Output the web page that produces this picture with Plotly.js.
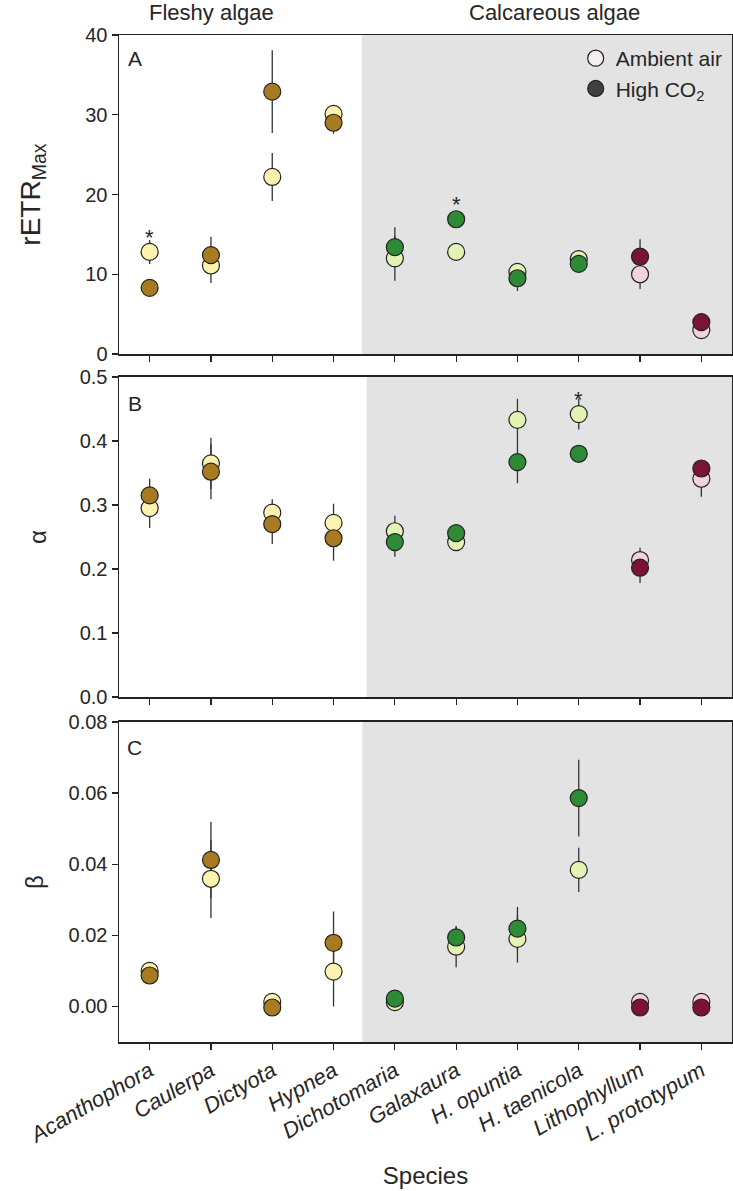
<!DOCTYPE html>
<html>
<head>
<meta charset="utf-8">
<script src="https://cdn.plot.ly/plotly-3.0.1.min.js"></script>
<style>html,body{margin:0;padding:0;background:#fff;}#chart{width:733px;height:1191px;}</style>
</head>
<body>
<div id="chart"></div>
<script>
// ---------- data ----------
const species = ['Acanthophora','Caulerpa','Dictyota','Hypnea','Dichotomaria','Galaxaura','H. opuntia','H. taenicola','Lithophyllum','L. prototypum'];
const groupOf = ['fleshy','fleshy','fleshy','fleshy','green','green','green','green','red','red'];

// Panel A: rETRmax
const ambientA    = [12.8, 11.1, 22.2, 30.1, 12.0, 12.8, 10.3, 11.9, 10.0, 3.0];
const ambientAErr = [1.5, 2.2, 3.0, 0.5, 2.8, 0.5, 1.1, 0.5, 1.85, 0.4];
const highA       = [8.3, 12.4, 32.9, 29.0, 13.4, 16.9, 9.5, 11.3, 12.2, 4.0];
const highAErr    = [0.5, 2.3, 5.2, 1.4, 2.5, 0.5, 1.6, 0.5, 2.2, 0.4];

// Panel B: alpha
const ambientB    = [0.295, 0.365, 0.288, 0.272, 0.259, 0.242, 0.433, 0.442, 0.214, 0.341];
const ambientBErr = [0.031, 0.040, 0.021, 0.030, 0.024, 0.012, 0.033, 0.024, 0.019, 0.028];
const highB       = [0.315, 0.352, 0.270, 0.248, 0.242, 0.256, 0.367, 0.380, 0.202, 0.357];
const highBErr    = [0.026, 0.043, 0.031, 0.035, 0.023, 0.010, 0.033, 0.005, 0.024, 0.010];

// Panel C: beta
const ambientC    = [0.0100, 0.0359, 0.0013, 0.0098, 0.0012, 0.0168, 0.0190, 0.0384, 0.0013, 0.0013];
const ambientCErr = [0.0010, 0.0110, 0.0005, 0.0098, 0.0005, 0.0058, 0.0067, 0.0062, 0.0005, 0.0005];
const highC       = [0.0087, 0.0412, -0.0003, 0.0179, 0.0022, 0.0194, 0.0219, 0.0586, -0.0003, -0.0003];
const highCErr    = [0.0010, 0.0107, 0.0005, 0.0088, 0.0005, 0.0030, 0.0061, 0.0108, 0.0005, 0.0005];

// significance asterisks
const starA = {species: ['Acanthophora','Galaxaura'], y: [14.6, 18.8]};
const starB = {species: ['H. taenicola'], y: [0.465]};

const ambientColor = {fleshy:'#FDF3B0', green:'#E3F3B3', red:'#F3D2D8'};
const highColor    = {fleshy:'#A87A22', green:'#2F8A35', red:'#7C1237'};
const legendAmbient = '#F5EEEE';
const legendHigh = '#404040';

// ---------- traces ----------
const FONT = 'Liberation Sans, Arial, sans-serif';
const TXT = '#262626';
const traces = [];
const panels = [
  {amb: ambientA, ambE: ambientAErr, hi: highA, hiE: highAErr, xa:'x',  ya:'y'},
  {amb: ambientB, ambE: ambientBErr, hi: highB, hiE: highBErr, xa:'x2', ya:'y2'},
  {amb: ambientC, ambE: ambientCErr, hi: highC, hiE: highCErr, xa:'x3', ya:'y3'}
];
panels.forEach(p => {
  // error bars first so markers sit on top
  [[p.amb, p.ambE], [p.hi, p.hiE]].forEach(([v, e]) => {
    traces.push({x: species, y: v, xaxis: p.xa, yaxis: p.ya, type:'scatter', mode:'markers',
      marker:{size:2, opacity:0}, showlegend:false, hoverinfo:'skip',
      error_y:{type:'data', array:e, visible:true, color:'#333', thickness:1.3, width:0}});
  });
  traces.push({x: species, y: p.amb, xaxis: p.xa, yaxis: p.ya, type:'scatter', mode:'markers',
    marker:{size:17, color: groupOf.map(g => ambientColor[g]), line:{color:'#222', width:1.2}},
    showlegend:false, name:'Ambient air'});
  traces.push({x: species, y: p.hi, xaxis: p.xa, yaxis: p.ya, type:'scatter', mode:'markers',
    marker:{size:17, color: groupOf.map(g => highColor[g]), line:{color:'#222', width:1.2}},
    showlegend:false, name:'High CO2'});
});
// legend entries
traces.push({x:[null], y:[null], type:'scatter', mode:'markers', name:'Ambient air',
  marker:{size:17, color:legendAmbient, line:{color:'#222', width:1.2}}, showlegend:true});
traces.push({x:[null], y:[null], type:'scatter', mode:'markers', name:'High CO<sub>2</sub>',
  marker:{size:17, color:legendHigh, line:{color:'#222', width:1.2}}, showlegend:true});

// ---------- layout ----------
const xBase = {type:'category', categoryorder:'array', categoryarray: species, range:[-0.5, 9.5],
  showline:true, linecolor:'#222', linewidth:1.5, mirror:true, ticks:'outside', ticklen:6,
  tickcolor:'#222', tickwidth:1.2, showgrid:false, zeroline:false, fixedrange:true};
const yBase = {showline:true, linecolor:'#222', linewidth:1.5, mirror:true, ticks:'outside', ticklen:6,
  tickcolor:'#222', tickwidth:1.2, showgrid:false, zeroline:false,
  tickfont:{family:FONT, size:20, color:TXT}};

const layout = {
  width:733, height:1191,
  margin:{l:119, r:1, t:35, b:149},
  paper_bgcolor:'#fff', plot_bgcolor:'rgba(0,0,0,0)',
  font:{family:FONT, color:TXT},
  showlegend:true,
  legend:{x:0.745, y:0.997, xanchor:'left', yanchor:'top', font:{family:FONT, size:21, color:TXT},
    bgcolor:'rgba(0,0,0,0)', borderwidth:0, tracegroupgap:0},
  xaxis: Object.assign({}, xBase, {domain:[0,1], anchor:'y', showticklabels:false}),
  xaxis2: Object.assign({}, xBase, {domain:[0,1], anchor:'y2', showticklabels:false}),
  xaxis3: Object.assign({}, xBase, {domain:[0,1], anchor:'y3', showticklabels:true, tickangle:-30,
    tickfont:{family:FONT, size:22, color:TXT, style:'italic'},
    title:{text:'Species', font:{family:FONT, size:24, color:TXT}, standoff:20}}),
  yaxis: Object.assign({}, yBase, {domain:[0.6832,1], anchor:'x', range:[0,40], dtick:10,
    title:{text:'rETR<sub>Max</sub>', font:{family:FONT, size:28, color:TXT}, standoff:36}}),
  yaxis2: Object.assign({}, yBase, {domain:[0.3426,0.6604], anchor:'x2', range:[0,0.5], dtick:0.1, tickformat:'.1f',
    title:{text:'α', font:{family:FONT, size:24, color:TXT}, standoff:26}}),
  yaxis3: Object.assign({}, yBase, {domain:[0,0.3178], anchor:'x3', range:[-0.01,0.08],
    tickvals:[0,0.02,0.04,0.06,0.08], tickformat:'.2f',
    title:{text:'β', font:{family:FONT, size:24, color:TXT}, standoff:18}}),
  shapes:[
    {type:'rect', xref:'x', yref:'y domain', x0:3.46, x1:9.5, y0:0, y1:1, fillcolor:'#E3E3E3', line:{width:0}, layer:'below'},
    {type:'rect', xref:'x2', yref:'y2 domain', x0:3.54, x1:9.5, y0:0, y1:1, fillcolor:'#E3E3E3', line:{width:0}, layer:'below'},
    {type:'rect', xref:'x3', yref:'y3 domain', x0:3.47, x1:9.5, y0:0, y1:1, fillcolor:'#E3E3E3', line:{width:0}, layer:'below'}
  ],
  annotations:[
    {text:'Fleshy algae', xref:'paper', yref:'paper', x:0.1517, y:1.0228, xanchor:'center', yanchor:'middle', showarrow:false, font:{family:FONT, size:22, color:TXT}},
    {text:'Calcareous algae', xref:'paper', yref:'paper', x:0.711, y:1.0228, xanchor:'center', yanchor:'middle', showarrow:false, font:{family:FONT, size:22, color:TXT}},
    {text:'A', xref:'x domain', yref:'y domain', x:0.012, y:0.968, xanchor:'left', yanchor:'top', showarrow:false, font:{family:FONT, size:21, color:TXT}},
    {text:'B', xref:'x2 domain', yref:'y2 domain', x:0.012, y:0.958, xanchor:'left', yanchor:'top', showarrow:false, font:{family:FONT, size:21, color:TXT}},
    {text:'C', xref:'x3 domain', yref:'y3 domain', x:0.010, y:0.961, xanchor:'left', yanchor:'top', showarrow:false, font:{family:FONT, size:21, color:TXT}}
  ]
};
starA.species.forEach((s, i) => layout.annotations.push({text:'*', xref:'x', yref:'y', x:s, y:starA.y[i], showarrow:false, xanchor:'center', yanchor:'middle', font:{family:FONT, size:22, color:TXT}}));
starB.species.forEach((s, i) => layout.annotations.push({text:'*', xref:'x2', yref:'y2', x:s, y:starB.y[i], showarrow:false, xanchor:'center', yanchor:'middle', font:{family:FONT, size:22, color:TXT}}));

Plotly.newPlot('chart', traces, layout, {staticPlot:true, displayModeBar:false});
</script>
</body>
</html>
